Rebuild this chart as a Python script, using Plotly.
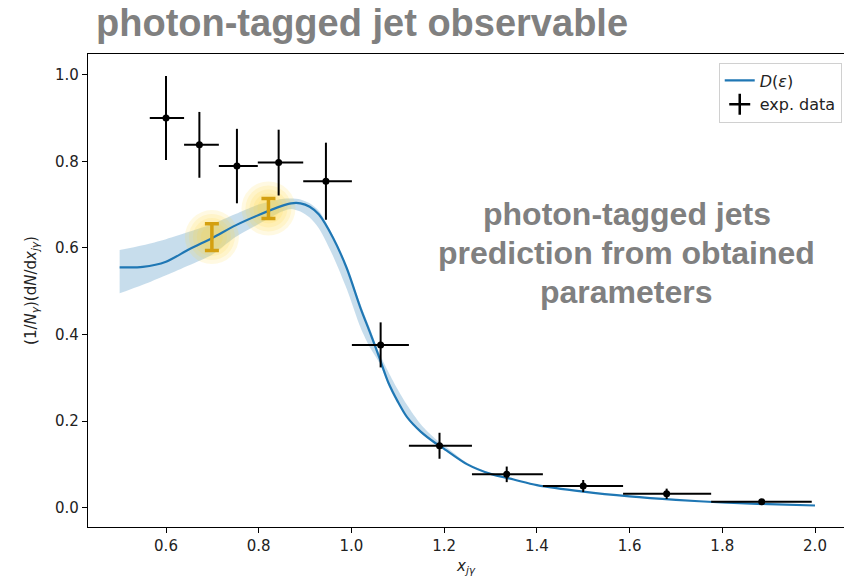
import plotly.graph_objects as go

# ---- prediction curve D(eps) ----
curve_x = [0.50, 0.55, 0.60, 0.65, 0.70, 0.75, 0.80, 0.85, 0.87, 0.89, 0.91, 0.93, 0.96, 0.99,
           1.02, 1.04, 1.06, 1.08, 1.10, 1.12, 1.15, 1.18, 1.20, 1.25, 1.30, 1.35, 1.40, 1.50,
           1.60, 1.70, 1.80, 1.90, 2.00]
curve_y = [0.555, 0.556, 0.568, 0.597, 0.623, 0.652, 0.676, 0.697, 0.703, 0.703, 0.695, 0.677, 0.624, 0.553,
           0.460, 0.405, 0.347, 0.288, 0.245, 0.209, 0.175, 0.150, 0.136, 0.100, 0.078, 0.065, 0.052, 0.037,
           0.026, 0.018, 0.012, 0.008, 0.005]
band_lo = [0.495, 0.515, 0.537, 0.560, 0.585, 0.625, 0.655, 0.684, 0.690, 0.684, 0.670, 0.645, 0.582, 0.505,
           0.415, 0.370, 0.335, 0.284, 0.243, 0.207, 0.172, 0.148, 0.134, 0.099, 0.077, 0.064, 0.051, 0.036,
           0.025, 0.017, 0.011, 0.007, 0.004]
band_hi = [0.595, 0.606, 0.620, 0.637, 0.655, 0.678, 0.700, 0.713, 0.714, 0.712, 0.703, 0.685, 0.628, 0.556,
           0.468, 0.414, 0.357, 0.313, 0.273, 0.237, 0.192, 0.160, 0.144, 0.103, 0.080, 0.066, 0.053, 0.038,
           0.027, 0.019, 0.013, 0.009, 0.006]

# ---- experimental data ----
data_x = [0.600, 0.672, 0.753, 0.843, 0.945, 1.063, 1.190, 1.335, 1.500, 1.680, 1.885]
data_y = [0.900, 0.838, 0.789, 0.797, 0.754, 0.376, 0.143, 0.077, 0.050, 0.032, 0.014]
data_yerr = [0.097, 0.076, 0.086, 0.076, 0.089, 0.052, 0.030, 0.018, 0.014, 0.012, 0.004]
bin_lo = [0.565, 0.639, 0.714, 0.798, 0.896, 1.001, 1.124, 1.260, 1.413, 1.586, 1.776]
bin_hi = [0.639, 0.714, 0.798, 0.896, 1.001, 1.124, 1.260, 1.413, 1.586, 1.776, 1.993]

# ---- highlighted points ----
hl_x = [0.699, 0.821]
hl_y = [0.625, 0.691]
hl_err = [0.031, 0.023]

# ---- text ----
title_text = "photon-tagged jet observable"
note_lines = ["photon-tagged jets", "prediction from obtained", "parameters"]
x_ticks = [0.6, 0.8, 1.0, 1.2, 1.4, 1.6, 1.8, 2.0]
y_ticks = [0.0, 0.2, 0.4, 0.6, 0.8, 1.0]

BLUE = "#1f77b4"
GOLD = "#d4a010"
GRAY = "#808080"

fig = go.Figure()

# uncertainty band
fig.add_trace(go.Scatter(x=curve_x, y=band_hi, mode="lines", line=dict(width=0, shape="spline", smoothing=0.8),
                         showlegend=False, hoverinfo="skip"))
fig.add_trace(go.Scatter(x=curve_x, y=band_lo, mode="lines", line=dict(width=0, shape="spline", smoothing=0.8),
                         fill="tonexty", fillcolor="rgba(31,119,180,0.25)",
                         showlegend=False, hoverinfo="skip"))

# glow behind highlighted bars
for s in [54, 46, 38, 30, 22]:
    fig.add_trace(go.Scatter(x=hl_x, y=hl_y, mode="markers",
                             marker=dict(size=s, color="rgba(255,214,60,0.15)", line=dict(width=0)),
                             showlegend=False, hoverinfo="skip"))

# curve
fig.add_trace(go.Scatter(x=curve_x, y=curve_y, mode="lines",
                         line=dict(color=BLUE, width=2.2, shape="spline", smoothing=0.8),
                         name="<i>D</i>(<i>ε</i>)"))

# highlighted I-bars
fig.add_trace(go.Scatter(x=hl_x, y=hl_y, mode="markers",
                         marker=dict(size=1, color="rgba(0,0,0,0)"),
                         error_y=dict(type="data", array=hl_err, color=GOLD, thickness=3.5, width=7),
                         showlegend=False, hoverinfo="skip"))

# experimental data
ex_plus = [h - x for h, x in zip(bin_hi, data_x)]
ex_minus = [x - l for l, x in zip(bin_lo, data_x)]
fig.add_trace(go.Scatter(x=data_x, y=data_y, mode="markers",
                         marker=dict(size=7, color="black"),
                         error_y=dict(type="data", array=data_yerr, color="black", thickness=2, width=0),
                         error_x=dict(type="data", array=ex_plus, arrayminus=ex_minus,
                                      color="black", thickness=2, width=0),
                         showlegend=False))
# legend entry for data
fig.add_trace(go.Scatter(x=[None], y=[None], mode="markers", name="exp. data",
                         marker=dict(symbol="cross-thin", size=15, color="black",
                                     line=dict(width=2.5, color="black"))))

# annotations
fig.add_annotation(text="<b>" + title_text + "</b>", xref="paper", yref="paper",
                   x=0.008, y=1.066, xanchor="left", yanchor="middle", showarrow=False,
                   font=dict(family="Liberation Sans, Arial, sans-serif", size=38, color=GRAY))
for i, (line, yy) in enumerate(zip(note_lines, [0.678, 0.588, 0.497])):
    fig.add_annotation(text="<b>" + line + "</b>", x=1.594, y=yy, xref="x", yref="y",
                       xanchor="center", yanchor="middle", showarrow=False,
                       font=dict(family="Liberation Sans, Arial, sans-serif", size=32, color=GRAY))

fig.update_layout(
    width=844, height=583,
    margin=dict(l=88, r=0, t=54, b=56),
    paper_bgcolor="white", plot_bgcolor="white",
    font=dict(family="DejaVu Sans", size=15, color="#222"),
    legend=dict(x=0.997, y=0.982, xanchor="right", yanchor="top", traceorder="normal",
                bgcolor="white", bordercolor="#d0d0d0", borderwidth=1,
                font=dict(size=16, family="DejaVu Sans", color="#222"),
                tracegroupgap=2, itemwidth=30),
    showlegend=True,
)
fig.update_xaxes(range=[0.43174, 2.06256], tickvals=x_ticks, ticktext=[f"{v:.1f}" for v in x_ticks],
                 showgrid=False, zeroline=False, showline=True, linecolor="black", linewidth=1.3,
                 mirror=True, ticks="outside", ticklen=5, tickwidth=1.2, tickcolor="black",
                 title=dict(text="<i>x</i><sub><i>jγ</i></sub>", standoff=6, font=dict(size=15)))
fig.update_yaxes(range=[-0.0446, 1.0478], tickvals=y_ticks, ticktext=[f"{v:.1f}" for v in y_ticks],
                 showgrid=False, zeroline=False, showline=True, linecolor="black", linewidth=1.3,
                 mirror=False, ticks="outside", ticklen=5, tickwidth=1.2, tickcolor="black",
                 title=dict(text="(1/<i>N</i><sub><i>γ</i></sub>)(d<i>N</i>/d<i>x</i><sub><i>jγ</i></sub>)",
                            standoff=14, font=dict(size=15)))

fig.write_html("out.html")
